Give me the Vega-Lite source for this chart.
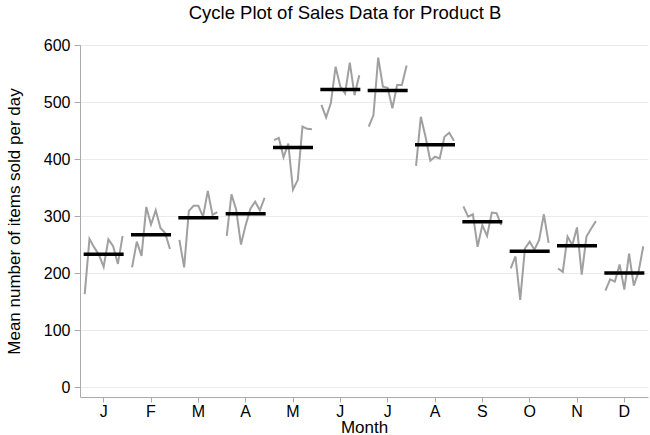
{
  "$schema": "https://vega.github.io/schema/vega-lite/v6.json",
  "autosize": {"type": "none"},
  "width": 568,
  "height": 352,
  "padding": {"left": 80, "top": 45, "right": 2, "bottom": 38},
  "background": "white",
  "title": {"text": "Cycle Plot of Sales Data for Product B", "font": "Liberation Sans", "fontSize": 18.5, "fontWeight": "normal", "color": "black", "anchor": "middle", "dx": -19, "offset": 15},
  "config": {
    "view": {"stroke": null},
    "font": "Liberation Sans",
    "axis": {"labelFont": "Liberation Sans", "titleFont": "Liberation Sans", "labelFontSize": 16, "titleFontSize": 17, "titleFontWeight": "normal", "labelColor": "black", "titleColor": "black", "domainColor": "#aaaaaa", "tickColor": "#aaaaaa", "tickSize": 6}
  },
  "datasets": {
    "sales": [
      {"month": "Jan", "year": 1, "sales": 163}, {"month": "Jan", "year": 2, "sales": 260}, {"month": "Jan", "year": 3, "sales": 245}, {"month": "Jan", "year": 4, "sales": 232}, {"month": "Jan", "year": 5, "sales": 211}, {"month": "Jan", "year": 6, "sales": 259}, {"month": "Jan", "year": 7, "sales": 247}, {"month": "Jan", "year": 8, "sales": 216}, {"month": "Jan", "year": 9, "sales": 265},
      {"month": "Feb", "year": 1, "sales": 210}, {"month": "Feb", "year": 2, "sales": 255}, {"month": "Feb", "year": 3, "sales": 230}, {"month": "Feb", "year": 4, "sales": 316}, {"month": "Feb", "year": 5, "sales": 285}, {"month": "Feb", "year": 6, "sales": 310}, {"month": "Feb", "year": 7, "sales": 279}, {"month": "Feb", "year": 8, "sales": 270}, {"month": "Feb", "year": 9, "sales": 242},
      {"month": "Mar", "year": 1, "sales": 258}, {"month": "Mar", "year": 2, "sales": 210}, {"month": "Mar", "year": 3, "sales": 309}, {"month": "Mar", "year": 4, "sales": 318}, {"month": "Mar", "year": 5, "sales": 318}, {"month": "Mar", "year": 6, "sales": 299}, {"month": "Mar", "year": 7, "sales": 344}, {"month": "Mar", "year": 8, "sales": 302}, {"month": "Mar", "year": 9, "sales": 307},
      {"month": "Apr", "year": 1, "sales": 265}, {"month": "Apr", "year": 2, "sales": 338}, {"month": "Apr", "year": 3, "sales": 311}, {"month": "Apr", "year": 4, "sales": 250}, {"month": "Apr", "year": 5, "sales": 284}, {"month": "Apr", "year": 6, "sales": 313}, {"month": "Apr", "year": 7, "sales": 325}, {"month": "Apr", "year": 8, "sales": 310}, {"month": "Apr", "year": 9, "sales": 332},
      {"month": "May", "year": 1, "sales": 433}, {"month": "May", "year": 2, "sales": 437}, {"month": "May", "year": 3, "sales": 403}, {"month": "May", "year": 4, "sales": 427}, {"month": "May", "year": 5, "sales": 346}, {"month": "May", "year": 6, "sales": 363}, {"month": "May", "year": 7, "sales": 457}, {"month": "May", "year": 8, "sales": 453}, {"month": "May", "year": 9, "sales": 452},
      {"month": "Jun", "year": 1, "sales": 495}, {"month": "Jun", "year": 2, "sales": 473}, {"month": "Jun", "year": 3, "sales": 498}, {"month": "Jun", "year": 4, "sales": 562}, {"month": "Jun", "year": 5, "sales": 527}, {"month": "Jun", "year": 6, "sales": 515}, {"month": "Jun", "year": 7, "sales": 569}, {"month": "Jun", "year": 8, "sales": 512}, {"month": "Jun", "year": 9, "sales": 547},
      {"month": "Jul", "year": 1, "sales": 457}, {"month": "Jul", "year": 2, "sales": 477}, {"month": "Jul", "year": 3, "sales": 578}, {"month": "Jul", "year": 4, "sales": 527}, {"month": "Jul", "year": 5, "sales": 525}, {"month": "Jul", "year": 6, "sales": 489}, {"month": "Jul", "year": 7, "sales": 530}, {"month": "Jul", "year": 8, "sales": 530}, {"month": "Jul", "year": 9, "sales": 564},
      {"month": "Aug", "year": 1, "sales": 388}, {"month": "Aug", "year": 2, "sales": 474}, {"month": "Aug", "year": 3, "sales": 439}, {"month": "Aug", "year": 4, "sales": 397}, {"month": "Aug", "year": 5, "sales": 404}, {"month": "Aug", "year": 6, "sales": 401}, {"month": "Aug", "year": 7, "sales": 439}, {"month": "Aug", "year": 8, "sales": 446}, {"month": "Aug", "year": 9, "sales": 432},
      {"month": "Sep", "year": 1, "sales": 317}, {"month": "Sep", "year": 2, "sales": 299}, {"month": "Sep", "year": 3, "sales": 303}, {"month": "Sep", "year": 4, "sales": 246}, {"month": "Sep", "year": 5, "sales": 284}, {"month": "Sep", "year": 6, "sales": 265}, {"month": "Sep", "year": 7, "sales": 306}, {"month": "Sep", "year": 8, "sales": 305}, {"month": "Sep", "year": 9, "sales": 284},
      {"month": "Oct", "year": 1, "sales": 208}, {"month": "Oct", "year": 2, "sales": 229}, {"month": "Oct", "year": 3, "sales": 153}, {"month": "Oct", "year": 4, "sales": 243}, {"month": "Oct", "year": 5, "sales": 255}, {"month": "Oct", "year": 6, "sales": 241}, {"month": "Oct", "year": 7, "sales": 258}, {"month": "Oct", "year": 8, "sales": 303}, {"month": "Oct", "year": 9, "sales": 253},
      {"month": "Nov", "year": 1, "sales": 208}, {"month": "Nov", "year": 2, "sales": 202}, {"month": "Nov", "year": 3, "sales": 264}, {"month": "Nov", "year": 4, "sales": 249}, {"month": "Nov", "year": 5, "sales": 280}, {"month": "Nov", "year": 6, "sales": 197}, {"month": "Nov", "year": 7, "sales": 264}, {"month": "Nov", "year": 8, "sales": 278}, {"month": "Nov", "year": 9, "sales": 291},
      {"month": "Dec", "year": 1, "sales": 169}, {"month": "Dec", "year": 2, "sales": 189}, {"month": "Dec", "year": 3, "sales": 185}, {"month": "Dec", "year": 4, "sales": 215}, {"month": "Dec", "year": 5, "sales": 171}, {"month": "Dec", "year": 6, "sales": 234}, {"month": "Dec", "year": 7, "sales": 178}, {"month": "Dec", "year": 8, "sales": 202}, {"month": "Dec", "year": 9, "sales": 247}
    ],
    "means": [
      {"month": "Jan", "mean": 233}, {"month": "Feb", "mean": 267}, {"month": "Mar", "mean": 297}, {"month": "Apr", "mean": 304},
      {"month": "May", "mean": 420}, {"month": "Jun", "mean": 522}, {"month": "Jul", "mean": 520}, {"month": "Aug", "mean": 425},
      {"month": "Sep", "mean": 290}, {"month": "Oct", "mean": 238}, {"month": "Nov", "mean": 248}, {"month": "Dec", "mean": 200}
    ]
  },
  "layer": [
    {
      "data": {"name": "sales"},
      "mark": {"type": "line", "color": "#a0a0a0", "strokeWidth": 2},
      "encoding": {
        "x": {"field": "month", "type": "nominal", "sort": ["Jan","Feb","Mar","Apr","May","Jun","Jul","Aug","Sep","Oct","Nov","Dec"],
              "scale": {"type": "band", "paddingInner": 0, "paddingOuter": 0},
              "axis": {"title": "Month", "labelAngle": 0, "labelExpr": "substring(datum.label, 0, 1)", "bandPosition": 0.5, "grid": false, "tickSize": 5, "labelPadding": 1, "titlePadding": 0}},
        "xOffset": {"field": "year", "type": "ordinal", "scale": {"type": "point", "padding": 1}},
        "y": {"field": "sales", "type": "quantitative",
              "scale": {"domain": [-17.5, 600], "nice": false, "zero": false},
              "axis": {"title": "Mean number of items sold per day", "values": [0,100,200,300,400,500,600], "gridColor": "#ebebeb", "gridWidth": 1, "labelPadding": 4, "titlePadding": 20}},
        "detail": {"field": "month"},
        "order": {"field": "year", "type": "ordinal"}
      }
    },
    {
      "data": {"name": "means"},
      "mark": {"type": "tick", "color": "black", "thickness": 3.5, "size": 40, "orient": "horizontal", "opacity": 1},
      "encoding": {
        "x": {"field": "month", "type": "nominal", "sort": ["Jan","Feb","Mar","Apr","May","Jun","Jul","Aug","Sep","Oct","Nov","Dec"]},
        "y": {"field": "mean", "type": "quantitative"}
      }
    }
  ]
}
